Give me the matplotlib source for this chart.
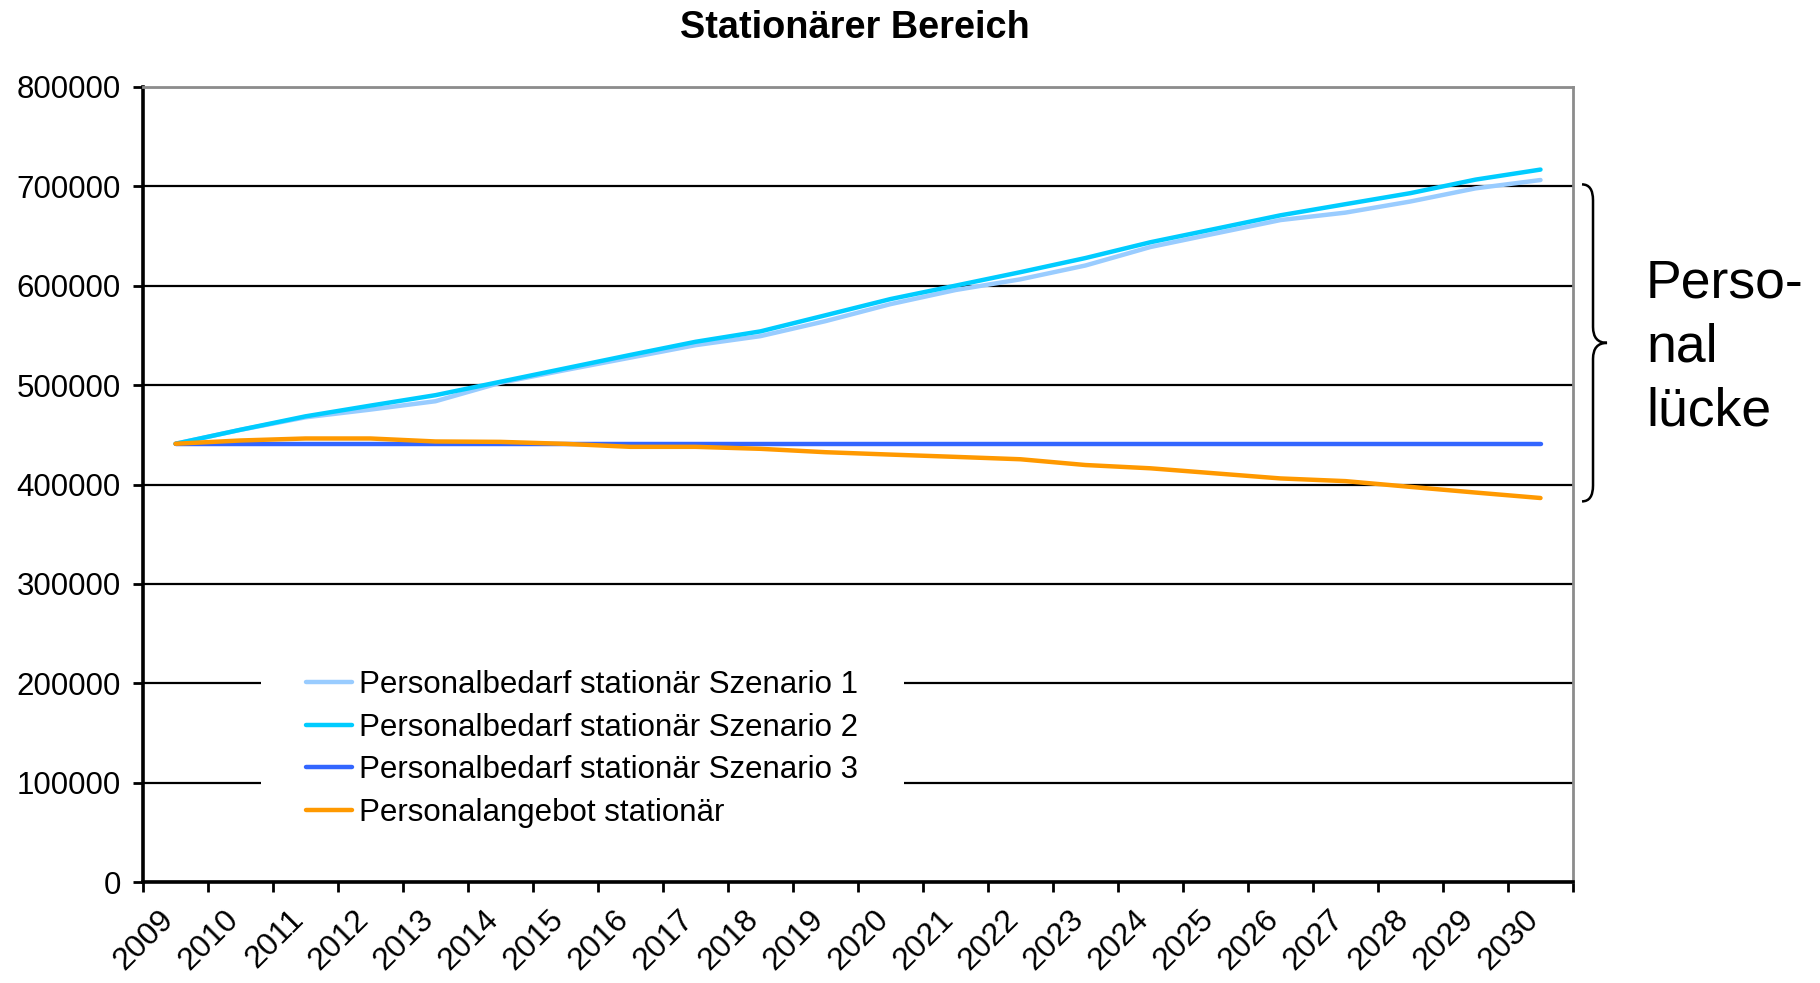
import numpy as np
import matplotlib
matplotlib.use("Agg")
import matplotlib.pyplot as plt
from matplotlib.path import Path
from matplotlib.patches import PathPatch
import matplotlib.transforms as mtransforms

plt.rcParams["font.family"] = ["Liberation Sans", "DejaVu Sans"]

YEARS = [str(y) for y in range(2009, 2031)]

SZENARIO_1 = [441000, 455000, 467600, 475400, 483800, 502400, 515200, 527700,
              540200, 549300, 564400, 581500, 595700, 606500, 620400, 639000,
              652600, 666100, 673600, 684800, 698000, 706400]
SZENARIO_2 = [441000, 455100, 468600, 479400, 489900, 503400, 516900, 530400,
              543600, 554100, 570300, 586600, 600100, 613700, 627900, 643800,
              657300, 670900, 682100, 693200, 706800, 716900]
SZENARIO_3 = [441000] * 22
ANGEBOT = [441000, 444300, 446300, 446300, 443300, 442900, 440900, 437900,
           437900, 435900, 432500, 430100, 427800, 425400, 419600, 416300,
           411200, 406100, 403400, 397600, 391900, 386400]

LABELS = ["Personalbedarf stationär Szenario 1",
          "Personalbedarf stationär Szenario 2",
          "Personalbedarf stationär Szenario 3",
          "Personalangebot stationär"]
COLORS = ["#99CCFF", "#00CCFF", "#3366FF", "#FF9900"]

# range covered by the "Personallücke" brace
BRACE_TOP = 702000
BRACE_BOTTOM = 383000

W, H = 1820, 983
fig = plt.figure(figsize=(W / 100, H / 100), dpi=100)
ax = fig.add_axes([143 / W, 1 - 882 / H, 1430 / W, 795 / H])

x = np.arange(len(YEARS))
for series, color, label in zip([SZENARIO_1, SZENARIO_2, SZENARIO_3, ANGEBOT], COLORS, LABELS):
    ax.plot(x, series, color=color, lw=3.2, label=label, solid_capstyle="round",
            zorder=3)

ax.set_xlim(-0.5, len(YEARS) - 0.5)
ax.set_ylim(0, 800000)
ax.set_yticks(np.arange(0, 800001, 100000))
ax.set_yticklabels([str(v) for v in range(0, 800001, 100000)])
ax.grid(axis="y", color="black", lw=1.6, zorder=1)

# category boundaries carry the tick marks, labels sit at the centres
ax.set_xticks(np.arange(-0.5, len(YEARS)), labels=[])
ax.set_xticks(x, minor=True)
ax.set_xticklabels(YEARS, minor=True, rotation=45, ha="right", va="top",
                   rotation_mode="anchor")
ax.tick_params(axis="x", which="major", direction="out", length=7, width=2)
ax.tick_params(axis="x", which="minor", length=0, pad=16, labelsize=23)
ax.tick_params(axis="y", direction="out", length=7, width=2, pad=9, labelsize=22.5)
shift = mtransforms.ScaledTranslation(-17 / 100, 0, fig.dpi_scale_trans)
for lbl in ax.get_xticklabels(minor=True):
    lbl.set_transform(lbl.get_transform() + shift)

for side in ("left", "bottom"):
    ax.spines[side].set_linewidth(2.6)
    ax.spines[side].set_color("black")
for side in ("top", "right"):
    ax.spines[side].set_linewidth(2)
    ax.spines[side].set_color("#8c8c8c")

leg = ax.legend(loc="upper left", bbox_to_anchor=(261 / W, 1 - 625 / H),
                bbox_transform=fig.transFigure, frameon=True, fontsize=22.5,
                handlelength=1.45, handletextpad=0.25, labelspacing=0.40,
                borderpad=1.45, borderaxespad=0, fancybox=False)
leg.get_frame().set_facecolor("white")
leg.get_frame().set_edgecolor("none")
leg.get_frame().set_alpha(1)
leg.set_zorder(5)

fig.text(855 / W, 1 - 28 / H, "Stationärer Bereich", ha="center", va="center",
         fontsize=27.3, fontweight="bold")

# curly brace to the right of the plot area
trans = mtransforms.blended_transform_factory(ax.transAxes, ax.transData)
xa, xb, xt = 1.0063, 1.0140, 1.0238
ymid = (BRACE_TOP + BRACE_BOTTOM) / 2
r = 16000
verts = [(xa, BRACE_TOP), (xb, BRACE_TOP), (xb, BRACE_TOP - r),
         (xb, ymid + r), (xb, ymid), (xt, ymid),
         (xb, ymid), (xb, ymid - r),
         (xb, BRACE_BOTTOM + r), (xb, BRACE_BOTTOM), (xa, BRACE_BOTTOM)]
codes = [Path.MOVETO, Path.CURVE3, Path.CURVE3,
         Path.LINETO, Path.CURVE3, Path.CURVE3,
         Path.CURVE3, Path.CURVE3,
         Path.LINETO, Path.CURVE3, Path.CURVE3]
ax.add_patch(PathPatch(Path(verts, codes), transform=trans, fill=False,
                       lw=1.8, color="black", clip_on=False))

for i, word in enumerate(["Perso-", "nal", "lücke"]):
    fig.text(1646 / W, 1 - (284 + 64 * i) / H, word, ha="left", va="center",
             fontsize=38.5)

fig.savefig("out.png", dpi=100, facecolor="white")
